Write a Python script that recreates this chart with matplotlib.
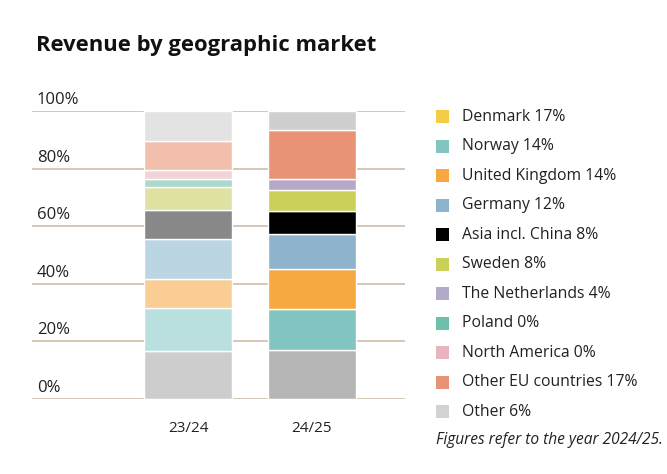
import matplotlib
matplotlib.use("Agg")
import matplotlib.pyplot as plt
from matplotlib.patches import Rectangle

# data, bottom segment first
periods = ["23/24", "24/25"]
markets = ["Denmark", "Norway", "United Kingdom", "Germany", "Asia incl. China",
           "Sweden", "The Netherlands", "Poland", "North America",
           "Other EU countries", "Other"]
share_2324 = [16.5, 15.0, 10.0, 14.0, 10.0, 8.0, 0.0, 3.0, 3.0, 10.0, 10.5]
share_2425 = [16.8, 14.5, 13.8, 12.0, 8.2, 7.3, 3.7, 0.0, 0.0, 17.1, 6.6]
legend_pct = [17, 14, 14, 12, 8, 8, 4, 0, 0, 17, 6]

colors_2324 = ["#cdcdcd", "#badfdf", "#f9cd93", "#bcd5e2", "#888888",
               "#dfe2a3", "#d9d3e6", "#acd9cd", "#f2d3d8", "#f2bfad", "#e3e3e3"]
colors_2425 = ["#b5b5b5", "#82c4c0", "#f6a941", "#8db4cc", "#000000",
               "#cbd05a", "#b5a9c9", "#6cc0ac", "#e8b4c0", "#e89375", "#cfcfcf"]
legend_colors = ["#f3cd45", "#82c4c0", "#f6a941", "#8db4cc", "#000000",
                 "#cbd05a", "#b5a9c9", "#6cc0ac", "#e8b4c0", "#e89375", "#d2d2d2"]

plt.rcParams['font.family'] = ['Open Sans', 'DejaVu Sans']
W, H = 667, 474
fig = plt.figure(figsize=(W / 100, H / 100), dpi=100)

# axes placed by pixel
ax = fig.add_axes([32 / W, (H - 398.5) / H, 373 / W, (398.5 - 111) / H])
ax.set_xlim(-1.264, 1.752)
ax.set_ylim(0, 100)
for s in ax.spines.values():
    s.set_visible(False)

grid_col = "#c9b89e"
for v in range(0, 101, 20):
    ax.axhline(v, color=grid_col, lw=1.1, zorder=0)
    ax.text(0.013, v + 0.9, f"{v}%", transform=ax.get_yaxis_transform(),
            ha="left", va="bottom", fontsize=12, color="#222222")
ax.set_yticks([])

for i, (vals, cols) in enumerate([(share_2324, colors_2324), (share_2425, colors_2425)]):
    bottom = 0
    for v, c in zip(vals, cols):
        if v > 0:
            ax.bar(i, v, bottom=bottom, width=0.71, color=c,
                   edgecolor="white", linewidth=1.0, zorder=2)
        bottom += v

ax.set_xticks(range(len(periods)))
ax.set_xticklabels(periods, fontsize=11, color="#222222")
ax.tick_params(axis="x", length=0, pad=16)

fig.text(36 / W, 1 - 46 / H, "Revenue by geographic market", fontsize=15.8,
         fontweight="bold", ha="left", va="center", color="#111111")

# legend
for k, (m, p, c) in enumerate(zip(markets, legend_pct, legend_colors)):
    yc = 116.7 + k * 29.5
    fig.patches.append(Rectangle((436 / W, 1 - (yc + 6.5) / H), 13 / W, 13 / H,
                                 transform=fig.transFigure, facecolor=c,
                                 edgecolor="none"))
    fig.text(461.7 / W, 1 - yc / H, f"{m} {p}%", fontsize=11.3,
             ha="left", va="center", color="#222222")

fig.text(436 / W, 1 - 440 / H, "Figures refer to the year 2024/25.",
         fontsize=11.2, style="italic", ha="left", va="center", color="#222222")

fig.savefig("out.png", dpi=100)
